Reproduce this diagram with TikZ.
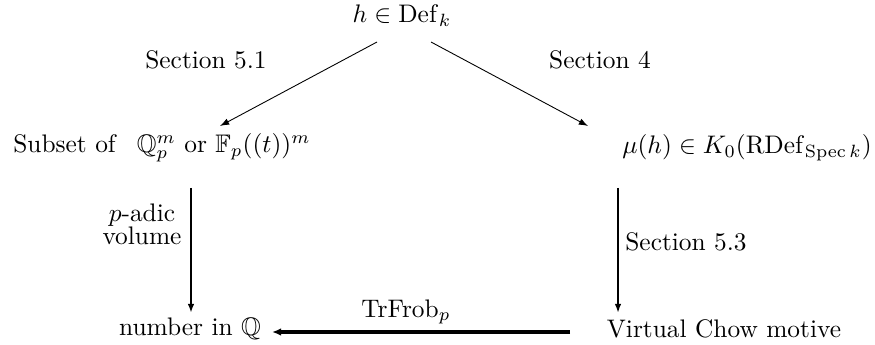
\documentclass[tikz,border=0pt]{standalone}
\usepackage{amsmath,amssymb}
\usetikzlibrary{arrows.meta}
\DeclareMathOperator{\Def}{Def}
\DeclareMathOperator{\RDef}{RDef}
\DeclareMathOperator{\Spec}{Spec}
\DeclareMathOperator{\TrFrob}{TrFrob}
\begin{document}
\begin{tikzpicture}[x=0.394pt,y=-0.394pt,
  lbl/.style={inner sep=0pt,anchor=center},
  thinarr/.style={line width=0.35pt,-{Latex[length=3.6pt,width=2.6pt]}},
  medarr/.style={line width=0.75pt,-{Latex[length=3.6pt,width=2.6pt]}},
  thickarr/.style={line width=1.5pt,-{Latex[length=3.6pt,width=3pt]}}]
\useasboundingbox (0,0) rectangle (875,345);
\node[lbl] (h) at (402,16) {$h\in\Def_k$};
\node[lbl] (s51) at (206,60) {Section 5.1};
\node[lbl] (s4) at (600,60) {Section 4};
\node[lbl] (sub) at (162,148) {Subset of \ \,$\mathbb{Q}_p^m$ or $\mathbb{F}_p((t))^m$};
\node[lbl] (mu) at (747,148) {$\mu(h)\in K_0(\RDef_{\Spec k})$};
\node[lbl] (num) at (190,329) {number in $\mathbb{Q}$};
\node[lbl] (vcm) at (724,329) {Virtual Chow motive};
\node[lbl,align=center] (padic) at (142,224) {$p$-adic\\[-3pt]volume};
\node[lbl] (s53) at (686,242) {Section 5.3};
\node[lbl] (tr) at (406,312) {$\TrFrob_p$};
\coordinate (hl) at (377,42);
\coordinate (hr) at (431,42);
\coordinate (subt) at (220,126);
\coordinate (mut) at (588,126);
\coordinate (subb) at (191,188);
\coordinate (numt) at (191,313);
\coordinate (mub) at (618,188);
\coordinate (vcmt) at (618,313);
\coordinate (vcml) at (570,332);
\coordinate (numr) at (272,332);
\draw[thinarr] (hl) -- (subt);
\draw[thinarr] (hr) -- (mut);
\draw[medarr] (subb) -- (numt);
\draw[medarr] (mub) -- (vcmt);
\draw[thickarr] (vcml) -- (numr);
\end{tikzpicture}
\end{document}
